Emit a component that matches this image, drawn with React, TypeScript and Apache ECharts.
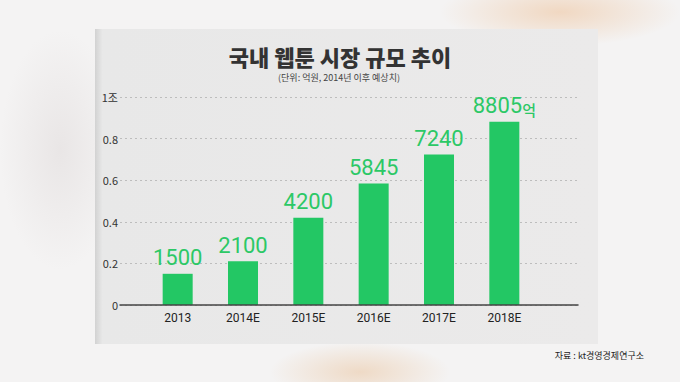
import React, { useEffect, useRef } from "react";
import * as echarts from "echarts";

const categories = ["2013", "2014E", "2015E", "2016E", "2017E", "2018E"];
const marketSize = [1500, 2100, 4200, 5845, 7240, 8805];
const yTickValues = [0, 2000, 4000, 6000, 8000, 10000];
const yTickLabels = ["0", "0.2", "0.4", "0.6", "0.8", "1조"];

const GREEN = "#23c764";
const LABEL_GREEN = "#2cc866";

export default function App() {
  const ref = useRef<HTMLDivElement>(null);
  useEffect(() => {
    if (!ref.current) return;
    const chart = echarts.init(ref.current, undefined, { renderer: "svg" });
    const last = marketSize.length - 1;
    chart.setOption({
      animation: false,
      backgroundColor: "#f4f3f3",
      graphic: [
        {
          type: "ellipse",
          shape: { cx: 560, cy: 12, rx: 120, ry: 34 },
          style: {
            fill: new echarts.graphic.RadialGradient(0.5, 0.5, 0.5, [
              { offset: 0, color: "rgba(235,175,120,0.4)" },
              { offset: 1, color: "rgba(235,175,120,0)" },
            ]),
          },
          silent: true,
          z: -10,
        },
        {
          type: "ellipse",
          shape: { cx: 360, cy: 372, rx: 90, ry: 30 },
          style: {
            fill: new echarts.graphic.RadialGradient(0.5, 0.5, 0.5, [
              { offset: 0, color: "rgba(230,180,130,0.4)" },
              { offset: 1, color: "rgba(230,180,130,0)" },
            ]),
          },
          silent: true,
          z: -10,
        },
        {
          type: "ellipse",
          shape: { cx: 60, cy: 150, rx: 60, ry: 120 },
          style: {
            fill: new echarts.graphic.RadialGradient(0.5, 0.5, 0.5, [
              { offset: 0, color: "rgba(200,190,190,0.25)" },
              { offset: 1, color: "rgba(200,190,190,0)" },
            ]),
          },
          silent: true,
          z: -10,
        },
        {
          type: "rect",
          shape: { x: 95, y: 29, width: 503, height: 315 },
          style: {
            fill: new echarts.graphic.LinearGradient(0, 0, 1, 0, [
              { offset: 0, color: "#d2d2d2" },
              { offset: 0.015, color: "#e8e8e8" },
              { offset: 1, color: "#ebeaea" },
            ]),
          },
          silent: true,
          z: -5,
        },
        {
          type: "text",
          x: 340,
          y: 56,
          style: {
            text: "국내 웹툰 시장 규모 추이",
            fontFamily: "Noto Sans CJK KR",
            fontSize: 22,
            fontWeight: 900,
            fill: "#333333",
            align: "center",
            verticalAlign: "middle",
          },
          z: 10,
        },
        {
          type: "text",
          x: 339,
          y: 77,
          style: {
            text: "(단위: 억원, 2014년 이후 예상치)",
            fontFamily: "Noto Sans CJK KR",
            fontSize: 9,
            fill: "#444444",
            align: "center",
            verticalAlign: "middle",
          },
          z: 10,
        },
        {
          type: "text",
          x: 644,
          y: 355,
          style: {
            text: "자료 : kt경영경제연구소",
            fontFamily: "Noto Sans CJK KR",
            fontSize: 9,
            fill: "#222222",
            align: "right",
            verticalAlign: "middle",
          },
          z: 10,
        },
      ],
      grid: [
        { left: 120, right: 102, top: 97, bottom: 77 },
        { left: 145, right: 143, top: 97, bottom: 77 },
      ],
      xAxis: [
        {
          type: "category",
          gridIndex: 0,
          data: [""],
          axisLine: { show: true, lineStyle: { color: "#444444", width: 1.5 } },
          axisTick: { show: false },
          axisLabel: { show: false },
          splitLine: { show: false },
          z: 5,
        },
        {
          type: "category",
          gridIndex: 1,
          data: categories,
          axisLine: { show: false },
          axisTick: { show: false },
          axisLabel: {
            color: "#222222",
            fontFamily: "Roboto",
            fontSize: 12,
            margin: 7,
          },
        },
      ],
      yAxis: [
        {
          type: "value",
          gridIndex: 0,
          min: 0,
          max: 10000,
          interval: 2000,
          axisLine: { show: false },
          axisTick: { show: false },
          axisLabel: {
            color: "#333333",
            fontFamily: "Noto Sans CJK KR",
            fontSize: 11,
            margin: 2,
            formatter: (v: number) => {
              const i = yTickValues.indexOf(v);
              return i >= 0 ? yTickLabels[i] : "";
            },
          },
          splitLine: {
            show: true,
            lineStyle: { color: "#bdbdbd", type: [2, 3], width: 1 },
          },
        },
        {
          type: "value",
          gridIndex: 1,
          min: 0,
          max: 10000,
          interval: 2000,
          show: false,
          splitLine: { show: false },
        },
      ],
      series: [
        {
          type: "bar",
          xAxisIndex: 1,
          yAxisIndex: 1,
          data: marketSize,
          barWidth: 30,
          itemStyle: { color: GREEN },
          z: 3,
          label: {
            show: true,
            position: "top",
            distance: 5,
            formatter: (p: any) =>
              p.dataIndex === last
                ? `{n|${p.value}}{u|억}`
                : `{n|${p.value}}`,
            rich: {
              n: {
                color: LABEL_GREEN,
                fontFamily: "Roboto",
                fontSize: 22,
                fontWeight: 400,
              },
              u: {
                color: LABEL_GREEN,
                fontFamily: "Noto Sans CJK KR",
                fontSize: 15,
                fontWeight: 500,
                verticalAlign: "bottom",
              },
            },
          },
        },
      ],
    });
    return () => chart.dispose();
  }, []);
  return (
    <div
      ref={ref}
      style={{ position: "fixed", left: 0, top: 0, width: 680, height: 382 }}
    />
  );
}
